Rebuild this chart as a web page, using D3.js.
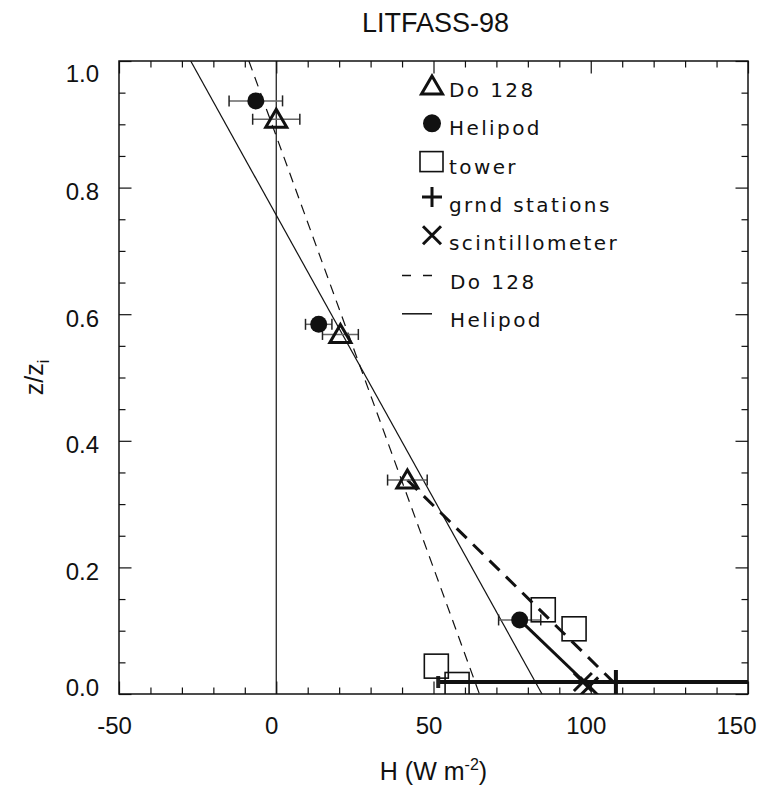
<!DOCTYPE html>
<html>
<head>
<meta charset="utf-8">
<script src="https://cdn.jsdelivr.net/npm/d3@7"></script>
<style>
body { margin: 0; background: #fff; }
svg { display: block; font-family: "Liberation Sans", Arial, sans-serif; }
.legend text { font-family: "DejaVu Sans", sans-serif; font-size: 20px; letter-spacing: 2.4px; fill: #111; }
</style>
</head>
<body>
<div id="chart"></div>
<script>
// values (H in W m-2, z/zi)
var doH = [0, 20.4, 41.7];
var doZ = [0.908, 0.568, 0.338];
var doErr = [7.5, 5.7, 6.3];

var heliH = [-6.5, 13.5, 77.4];
var heliZ = [0.937, 0.584, 0.117];
var heliErr = [8.5, 4.2, 6.7];

var towerH = [84.9, 94.7, 50.9, 57.5];
var towerZ = [0.133, 0.103, 0.044, 0.015];

var grndH = [108];
var grndZ = [0.019];
var grndErr = [56.5];

var scintH = [97.5, 99.5];
var scintZ = [0.019, 0.012];

// linear fits and surface connections
var doFitH = [-8.7, 64.6];
var doFitZ = [1.0, 0.0];
var heliFitH = [-27.2, 84.5];
var heliFitZ = [1.0, 0.0];
var doSurfH = [41.7, 108];
var doSurfZ = [0.338, 0.015];
var heliSurfH = [77.4, 98];
var heliSurfZ = [0.117, 0.019];

var xMajor = [-50, 0, 50, 100, 150];
var yMajor = [0, 0.2, 0.4, 0.6, 0.8, 1.0];
var legendLabels = ["Do 128", "Helipod", "tower", "grnd stations", "scintillometer", "Do 128", "Helipod"];

var totalWidth = 763,
    totalHeight = 788;
var margin = {top: 61, right: 15, bottom: 94, left: 119};
var width = totalWidth - margin.left - margin.right,
    height = totalHeight - margin.top - margin.bottom;

var xScale = d3.scaleLinear().domain([-50, 150]).range([0, width]);
var yScale = d3.scaleLinear().domain([0, 1]).range([height, 0]);

var xMinor = d3.range(-50, 151, 10).filter(function(v) { return v % 50 !== 0; });
var yMinor = d3.range(0, 21).map(function(i) { return i * 0.05; })
    .filter(function(v, i) { return i % 4 !== 0; });

var svg = d3.select("#chart").append("svg")
    .attr("width", totalWidth)
    .attr("height", totalHeight);

svg.append("defs").append("clipPath").attr("id", "plotClip")
    .append("rect").attr("width", width).attr("height", height);

var g = svg.append("g").attr("transform", "translate(" + margin.left + "," + margin.top + ")");

// title
svg.append("text")
    .attr("x", margin.left + width / 2 + 2)
    .attr("y", 32)
    .attr("text-anchor", "middle")
    .style("font-size", "27px")
    .style("fill", "#111")
    .text("LITFASS-98");

// axes, ticks inward on all four sides
function styleAxis(sel) {
    sel.select(".domain").remove();
    sel.selectAll(".tick line").attr("stroke", "#111").attr("stroke-width", 1.2);
}

var bottomMajor = g.append("g").attr("transform", "translate(0," + height + ")")
    .call(d3.axisBottom(xScale).tickValues(xMajor).tickSize(-12.5)
        .tickFormat(function(d) { return String(d); }));
styleAxis(bottomMajor);
bottomMajor.selectAll("text")
    .attr("y", 40).attr("dy", 0)
    .attr("x", function(d) { return d === 150 ? -12 : -5; })
    .style("font-size", "24px")
    .style("font-family", "'Liberation Sans', Arial, sans-serif")
    .style("fill", "#111");

var bottomMinor = g.append("g").attr("transform", "translate(0," + height + ")")
    .call(d3.axisBottom(xScale).tickValues(xMinor).tickSize(-6.5).tickFormat(""));
styleAxis(bottomMinor);

var topMajor = g.append("g")
    .call(d3.axisTop(xScale).tickValues(xMajor).tickSize(-12.5).tickFormat(""));
styleAxis(topMajor);
var topMinor = g.append("g")
    .call(d3.axisTop(xScale).tickValues(xMinor).tickSize(-6.5).tickFormat(""));
styleAxis(topMinor);

var leftMajor = g.append("g")
    .call(d3.axisLeft(yScale).tickValues(yMajor).tickSize(-12.5).tickFormat(d3.format(".1f")));
styleAxis(leftMajor);
leftMajor.selectAll("text")
    .attr("x", -20)
    .attr("dy", function(d) {
        if (d === 1) return 20;
        if (d === 0) return 1;
        return 12;
    })
    .style("font-size", "24px")
    .style("font-family", "'Liberation Sans', Arial, sans-serif")
    .style("fill", "#111");

var leftMinor = g.append("g")
    .call(d3.axisLeft(yScale).tickValues(yMinor).tickSize(-6.5).tickFormat(""));
styleAxis(leftMinor);

var rightMajor = g.append("g").attr("transform", "translate(" + width + ",0)")
    .call(d3.axisRight(yScale).tickValues(yMajor).tickSize(-12.5).tickFormat(""));
styleAxis(rightMajor);
var rightMinor = g.append("g").attr("transform", "translate(" + width + ",0)")
    .call(d3.axisRight(yScale).tickValues(yMinor).tickSize(-6.5).tickFormat(""));
styleAxis(rightMinor);

g.append("rect")
    .attr("width", width).attr("height", height)
    .attr("fill", "none").attr("stroke", "#111").attr("stroke-width", 1.5);

// axis titles
var xt = svg.append("text")
    .attr("x", margin.left + width / 2)
    .attr("y", 780)
    .attr("text-anchor", "middle")
    .style("font-size", "25px")
    .style("fill", "#111");
xt.append("tspan").text("H (W m");
xt.append("tspan").attr("dy", -10).style("font-size", "16px").text("-2");
xt.append("tspan").attr("dy", 10).text(")");

var yt = svg.append("text")
    .attr("transform", "translate(43," + (margin.top + height / 2) + ") rotate(-90)")
    .attr("text-anchor", "middle")
    .style("font-size", "25px")
    .style("fill", "#111");
yt.append("tspan").text("z/z");
yt.append("tspan").attr("dy", 6).style("font-size", "16px").text("i");

// lines
var plot = g.append("g").attr("clip-path", "url(#plotClip)");

plot.append("line")
    .attr("x1", xScale(0)).attr("x2", xScale(0))
    .attr("y1", 0).attr("y2", height)
    .attr("stroke", "#111").attr("stroke-width", 1.2);

function pairs(hs, zs) {
    return hs.map(function(h, i) { return [h, zs[i]]; });
}
var line = d3.line()
    .x(function(d) { return xScale(d[0]); })
    .y(function(d) { return yScale(d[1]); });

plot.append("path").datum(pairs(doFitH, doFitZ))
    .attr("d", line).attr("fill", "none")
    .attr("stroke", "#111").attr("stroke-width", 1.2).attr("stroke-dasharray", "10,7");
plot.append("path").datum(pairs(heliFitH, heliFitZ))
    .attr("d", line).attr("fill", "none")
    .attr("stroke", "#111").attr("stroke-width", 1.2);
plot.append("path").datum(pairs(doSurfH, doSurfZ))
    .attr("d", line).attr("fill", "none")
    .attr("stroke", "#111").attr("stroke-width", 3).attr("stroke-dasharray", "14,9");
plot.append("path").datum(pairs(heliSurfH, heliSurfZ))
    .attr("d", line).attr("fill", "none")
    .attr("stroke", "#111").attr("stroke-width", 3);

// error bars
function errorBars(hs, zs, errs, sw, capH, col) {
    hs.forEach(function(h, i) {
        var y = yScale(zs[i]);
        var x1 = xScale(h - errs[i]), x2 = xScale(h + errs[i]);
        plot.append("line").attr("x1", x1).attr("x2", x2).attr("y1", y).attr("y2", y)
            .attr("stroke", col).attr("stroke-width", sw);
        [x1, x2].forEach(function(x) {
            plot.append("line").attr("x1", x).attr("x2", x)
                .attr("y1", y - capH / 2).attr("y2", y + capH / 2)
                .attr("stroke", "#222").attr("stroke-width", sw);
        });
    });
}
errorBars(doH, doZ, doErr, 1.5, 11, "#666");
errorBars(heliH, heliZ, heliErr, 1.5, 11, "#666");
errorBars(grndH, grndZ, grndErr, 4, 12, "#111");

// markers
var triPath = "M0,-10L10.5,8L-10.5,8Z";

plot.selectAll(".tri").data(pairs(doH, doZ)).enter().append("path")
    .attr("d", triPath)
    .attr("transform", function(d) { return "translate(" + xScale(d[0]) + "," + yScale(d[1]) + ")"; })
    .attr("fill", "none").attr("stroke", "#111").attr("stroke-width", 3);

plot.selectAll(".dot").data(pairs(heliH, heliZ)).enter().append("circle")
    .attr("cx", function(d) { return xScale(d[0]); })
    .attr("cy", function(d) { return yScale(d[1]); })
    .attr("r", 8.5).attr("fill", "#111");

plot.selectAll(".sq").data(pairs(towerH, towerZ)).enter().append("rect")
    .attr("x", function(d) { return xScale(d[0]) - 12; })
    .attr("y", function(d) { return yScale(d[1]) - 12; })
    .attr("width", 24).attr("height", 24)
    .attr("fill", "none").attr("stroke", "#111").attr("stroke-width", 1.6);

function plusPath(s) { return "M" + (-s) + ",0H" + s + "M0," + (-s) + "V" + s; }
function crossPath(s) { return "M" + (-s) + "," + (-s) + "L" + s + "," + s + "M" + (-s) + "," + s + "L" + s + "," + (-s); }

plot.selectAll(".plus").data(pairs(grndH, grndZ)).enter().append("path")
    .attr("d", plusPath(12))
    .attr("transform", function(d) { return "translate(" + xScale(d[0]) + "," + yScale(d[1]) + ")"; })
    .attr("stroke", "#111").attr("stroke-width", 4);

plot.selectAll(".cross").data(pairs(scintH, scintZ)).enter().append("path")
    .attr("d", crossPath(9))
    .attr("transform", function(d) { return "translate(" + xScale(d[0]) + "," + yScale(d[1]) + ")"; })
    .attr("stroke", "#111").attr("stroke-width", 3);

// legend
var legend = svg.append("g").attr("class", "legend");
var legX = 432, legTextX = 449, legY0 = 97, legStep = 38.3;

legendLabels.forEach(function(lbl, i) {
    var by = legY0 + i * legStep;
    var cy = by - 12;
    if (i === 0) {
        legend.append("path").attr("d", triPath)
            .attr("transform", "translate(" + legX + "," + (cy + 1) + ")")
            .attr("fill", "none").attr("stroke", "#111").attr("stroke-width", 3);
    } else if (i === 1) {
        legend.append("circle").attr("cx", legX).attr("cy", cy).attr("r", 9).attr("fill", "#111");
    } else if (i === 2) {
        legend.append("rect").attr("x", legX - 12).attr("y", cy - 10)
            .attr("width", 23).attr("height", 20)
            .attr("fill", "none").attr("stroke", "#111").attr("stroke-width", 1.6);
    } else if (i === 3) {
        legend.append("path").attr("d", plusPath(10))
            .attr("transform", "translate(" + legX + "," + (cy - 3) + ")")
            .attr("stroke", "#111").attr("stroke-width", 3);
    } else if (i === 4) {
        legend.append("path").attr("d", crossPath(9))
            .attr("transform", "translate(" + legX + "," + (cy - 3) + ")")
            .attr("stroke", "#111").attr("stroke-width", 3);
    } else {
        legend.append("line").attr("x1", 402).attr("x2", 432)
            .attr("y1", cy - 1).attr("y2", cy - 1)
            .attr("stroke", "#111").attr("stroke-width", 1.5)
            .attr("stroke-dasharray", i === 5 ? "9,12" : null);
    }
    legend.append("text")
        .attr("x", i >= 5 ? legTextX + 1 : legTextX)
        .attr("y", by)
        .text(lbl);
});
</script>
</body>
</html>
